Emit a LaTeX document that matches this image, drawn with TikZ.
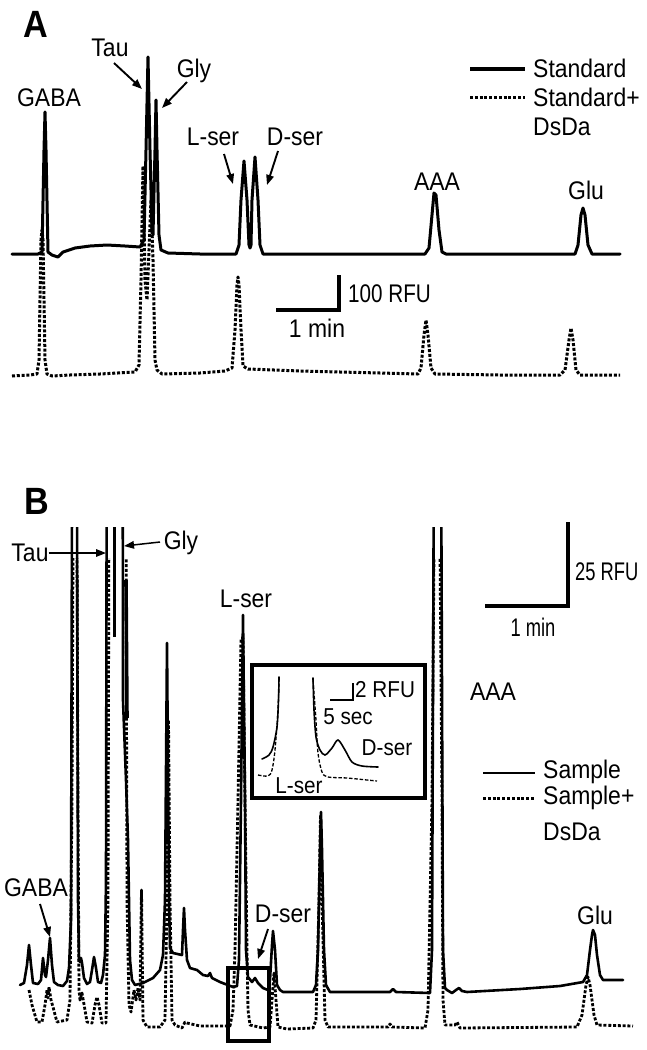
\documentclass[tikz,border=0pt]{standalone}
\usepackage{fontspec}
\setmainfont[FakeStretch=0.9]{Liberation Sans}
\usetikzlibrary{arrows.meta}
\begin{document}
\begin{tikzpicture}[x=1pt,y=-1pt,
  lbl/.style={font=\fontsize{25.5}{28}\selectfont, inner sep=0pt},
  small/.style={font=\fontsize{23}{26}\selectfont, inner sep=0pt},
  panel/.style={font=\fontsize{38}{42}\selectfont\bfseries, inner sep=0pt},
  trace/.style={line width=3pt, line join=round, line cap=round},
  dtrace/.style={line width=3pt, dash pattern=on 3pt off 1.8pt, line join=round},
  bar/.style={line width=3.6pt},
  ptr/.style={line width=1.9pt, -{Triangle[length=10pt,width=7.5pt]}},
  frame/.style={line width=4pt},
  thinsolid/.style={line width=1.6pt},
  thindash/.style={line width=1.3pt, dash pattern=on 3.5pt off 1.8pt}
]
\useasboundingbox (0,0) rectangle (647,1050);
\fill[white] (0,0) rectangle (647,1050);

% ================= Panel A =================
\node[panel] (pA) at (36,24) {A};

% solid trace A
\draw[trace] plot coordinates {(12,254) (38,254) (42,252) (44,150) (45,112) (46,150) (48,252) (52,255) (58,257) (63,252) (75,248) (90,246) (107,245) (125,246) (140,247) (144,240) (146,150) (148,57) (150,150) (152,230) (153,235) (155,150) (156,100) (157,150) (159,235) (161,250) (168,253) (200,254) (236,254) (239,245) (241,200) (244,161) (247,200) (249,245) (250,248) (251,245) (252,200) (255,157) (258,200) (260,245) (263,254) (300,254) (425,254) (429,248) (432,215) (434,193) (436,195) (439,230) (442,252) (446,254) (575,254) (578,245) (581,215) (583,208) (585,215) (588,245) (592,254) (620,254)};

% dotted trace A
\draw[dtrace] plot coordinates {(12,376) (30,375) (37,374) (39,360) (41,240) (42,230) (43,240) (45,360) (47,374) (52,376) (70,375) (100,374) (135,372) (139,365) (141,280) (143,166) (145,280) (147,300) (149,250) (151,200) (153,260) (155,360) (157,370) (162,374) (200,373) (225,371) (232,368) (235,330) (237,285) (238,277) (239,285) (241,330) (243,366) (248,369) (300,371) (380,373) (418,374) (421,368) (424,335) (426,320) (428,335) (431,368) (435,374) (500,375) (560,375) (565,370) (569,340) (571,328) (573,340) (576,370) (580,375) (620,375)};

% labels A
\node[lbl] (gabaA) at (49,98) {GABA};
\node[lbl] (tauA) at (110,48) {Tau};
\node[lbl] (glyA) at (194,71) {Gly};
\node[lbl] (lserA) at (213,137) {L-ser};
\node[lbl] (dserA) at (295,137) {D-ser};
\node[lbl] (aaaA) at (437,182) {AAA};
\node[lbl] (gluA) at (586,190) {Glu};

\coordinate (tauAs) at (114,63);
\coordinate (tauAe) at (142,89);
\coordinate (glyAs) at (187,82);
\coordinate (glyAe) at (162,108);
\coordinate (lserAs) at (224,154);
\coordinate (lserAe) at (233,184);
\coordinate (dserAs) at (278,151);
\coordinate (dserAe) at (267,185);
\draw[ptr] (tauAs) -- (tauAe);
\draw[ptr] (glyAs) -- (glyAe);
\draw[ptr] (lserAs) -- (lserAe);
\draw[ptr] (dserAs) -- (dserAe);

% legend A
\coordinate (legA1a) at (470,69);
\coordinate (legA1b) at (525,69);
\coordinate (legA2a) at (470,97);
\coordinate (legA2b) at (525,97);
\draw[trace, line width=3.4pt, line cap=butt] (legA1a) -- (legA1b);
\draw[dtrace] (legA2a) -- (legA2b);
\node[lbl, anchor=west] (stdA) at (533,68) {Standard};
\node[lbl, anchor=west] (stdpA) at (533,97) {Standard+};
\node[lbl, anchor=west] (dsdaA) at (533,127) {DsDa};

% scale bar A
\coordinate (sbA1) at (278,310);
\coordinate (sbA2) at (339,310);
\coordinate (sbA3) at (339,277);
\draw[bar, line cap=rect] (sbA1) -- (sbA2) -- (sbA3);
\node[lbl, anchor=west] (rfuA) at (348,294) {\scalebox{0.9}[1]{100 RFU}};
\node[lbl] (minA) at (317,328) {1 min};

% ================= Panel B =================
\node[panel] (pB) at (37,501) {B};

% solid trace B (clipped at top)
\begin{scope}
\clip (0,527) rectangle (647,1050);
\draw[trace, line width=2.6pt] plot coordinates {(20,985) (24,983) (27,965) (29,945) (31,965) (33,983) (38,984) (41,980) (43,958) (45,975) (46,977) (48,960) (50,938) (52,965) (54,982) (58,985) (63,986) (67,981) (69,968) (71,920) (72.5,300) (76.5,300) (78,900) (79,960) (80,962) (81,958) (82,963) (84,978) (87,984) (90,982) (92,970) (94,957) (96,968) (98,982) (101,983) (103,975) (105,955) (106,880) (107,300) (122.5,300) (123,700) (126,780) (128,840) (130,960) (132,980) (135,985) (143,983) (153,978) (160,970) (163,955) (165,900) (167,643) (169,900) (170,948) (173,953) (182,955) (183,930) (184,908) (185,930) (187,960) (190,968) (197,970) (203,975) (208,976) (210,973) (212,978) (220,982) (233,987) (237,986) (239,960) (241,800) (243,615) (245,800) (246,950) (248,977) (252,982) (255,978) (258,983) (263,988) (268,990) (270,980) (272,945) (273,931) (275,950) (277,985) (280,990) (283,992) (313,992) (316,985) (318,950) (320,850) (321,812) (322,850) (324,950) (326,985) (330,992) (390,992) (393,989) (396,992) (430,993) (432,950) (434.5,300) (440.5,300) (443,950) (445,988) (447,990) (452,993) (456,990) (459,988) (462,991) (467,992) (520,989) (560,986) (583,982) (587,975) (590,950) (592,935) (593,930) (595,935) (597,955) (600,975) (603,980) (623,980)};
\draw[line width=3.2pt] (114.5,527) -- (114.5,637);
\draw[line width=3.6pt] (126,580) -- (127,718);
\end{scope}

% dotted trace B (clipped at top)
\begin{scope}
\clip (0,558) rectangle (647,1050);
\draw[dtrace, line width=2.8pt] plot coordinates {(29,990) (32,1005) (37,1022) (42,1022) (45,1005) (47,990) (48,998) (49,987) (51,1000) (53,1007) (57,1022) (67,1020) (70,1000) (72,800) (74,300) (76,300) (78,800) (79,990) (80,1000) (82,993) (85,1010) (87,1022) (92,1023) (95,1005) (97,997) (99,1005) (102,1023) (106,1023) (108,900) (109.5,300) (111,300) (117,450) (124,300) (125.5,300) (127,900) (129,1005) (131,1012) (134,990) (136,1000) (138,988) (140,1000) (141.5,890) (143,1020) (147,1027) (160,1027) (165,1020) (167,900) (168.5,720) (170,900) (172,1020) (175,1025) (182,1028) (185,1022) (187,1023) (200,1026) (230,1026) (233,1010) (235,950) (238,800) (241,638) (243,638) (245,800) (247,950) (248,1010) (250,1025) (263,1028) (270,1027) (272,1000) (274,973) (276,1000) (278,1027) (287,1029) (313,1028) (316,1020) (319,900) (320.5,815) (322,900) (325,1020) (328,1027) (388,1027) (390,1024) (392,1027) (425,1028) (428,1010) (432,800) (436,300) (438,300) (442,800) (443,1000) (445,1025) (455,1025) (457,1022) (460,1028) (577,1027) (582,1015) (586,985) (588,977) (590,985) (594,1015) (597,1025) (633,1026)};
\end{scope}

% labels B
\node[lbl] (tauB) at (30,553) {Tau};
\node[lbl] (glyB) at (181,543) {Gly};
\node[lbl] (lserB) at (246,599) {L-ser};
\node[lbl] (aaaB) at (493,692) {AAA};
\node[lbl] (gabaB) at (36,888) {GABA};
\node[lbl] (dserB) at (283,914) {D-ser};
\node[lbl] (gluB) at (595,915) {Glu};

\coordinate (tauBe) at (106,553);
\coordinate (glyBs) at (160,542);
\coordinate (glyBe) at (124,546);
\coordinate (gabaBs) at (40,904);
\coordinate (gabaBe) at (50,937);
\coordinate (dserBs) at (268,929);
\coordinate (dserBe) at (258,959);
\draw[ptr, line width=1.5pt] (tauB.east) -- (tauBe);
\draw[ptr, line width=1.5pt] (glyBs) -- (glyBe);
\draw[ptr] (gabaBs) -- (gabaBe);
\draw[ptr] (dserBs) -- (dserBe);

% scale bar B
\coordinate (sbB1) at (487,606);
\coordinate (sbB2) at (568,606);
\coordinate (sbB3) at (568,524);
\draw[bar, line cap=rect] (sbB1) -- (sbB2) -- (sbB3);
\node[lbl, anchor=west] (rfuB) at (575,572) {\scalebox{0.8}[1]{25 RFU}};
\node[lbl] (minB) at (533,627) {\scalebox{0.8}[1]{1 min}};

% legend B
\coordinate (legB1a) at (483,773);
\coordinate (legB1b) at (535,773);
\coordinate (legB2a) at (483,798);
\coordinate (legB2b) at (535,798);
\draw[trace, line width=2.6pt, line cap=butt] (legB1a) -- (legB1b);
\draw[dtrace] (legB2a) -- (legB2b);
\node[lbl, anchor=west] (smpB) at (543,772) {Sample};
\node[lbl, anchor=west] (smppB) at (543,798) {Sample+};
\node[lbl, anchor=west] (dsdaB) at (543,832) {DsDa};

% small box around D-ser region
\draw[frame, line width=3.8pt] (228,968) rectangle (269,1041);

% inset
\draw[frame, fill=white] (252,665) rectangle (425,798);
\draw[thinsolid, line cap=round] plot[smooth] coordinates {(262,759) (269,755) (273,747) (277,727) (278.5,700) (279,677)};
\draw[thindash] plot[smooth] coordinates {(258,775) (268,776) (272,770) (275,750) (278,710) (279,680)};
\draw[thinsolid, line cap=round] plot[smooth] coordinates {(313,678) (314,710) (316,737) (320,750) (325,755) (332,748) (338,740) (345,750) (352,762) (362,766) (378,767)};
\draw[thindash] plot[smooth] coordinates {(313,680) (316,720) (318,753) (322,772) (328,777) (347,778) (367,780) (377,781)};
\coordinate (isb1) at (330,700);
\coordinate (isb2) at (353,700);
\coordinate (isb3) at (353,683);
\draw[line width=2.2pt] (isb1) -- (isb2) -- (isb3);
\node[small, anchor=west] (irfu) at (355,690) {2 RFU};
\node[small] (isec) at (348,717) {5 sec};
\node[small] (idser) at (387,748) {D-ser};
\node[small] (ilser) at (299,786) {L-ser};
\end{tikzpicture}
\end{document}
